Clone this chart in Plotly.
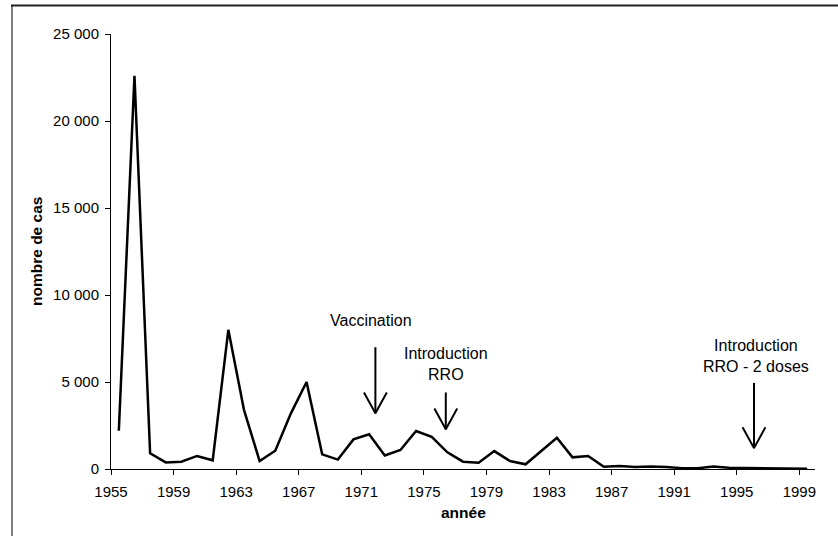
import plotly.graph_objects as go

# Measles cases per year
years = list(range(1955, 2000))
cases = [2200, 22600, 900, 380, 420, 750, 500, 8000, 3400, 460,
         1050, 3200, 5000, 840, 540, 1700, 2000, 780, 1090, 2180,
         1850, 960, 420, 360, 1030, 460, 270, 1050, 1800, 670,
         750, 130, 170, 110, 150, 110, 50, 40, 150, 70,
         50, 50, 20, 10, 10]

tick_years = [1955, 1959, 1963, 1967, 1971, 1975, 1979, 1983, 1987, 1991, 1995, 1999]
y_ticks = [0, 5000, 10000, 15000, 20000, 25000]
y_tick_labels = ["0", "5 000", "10 000", "15 000", "20 000", "25 000"]

# events: label, arrow x (year), arrow top, arrow tip, label position
event_labels = ["Vaccination", "Introduction<br>RRO", "Introduction<br>RRO - 2 doses"]
event_x = [1971.4, 1975.9, 1995.6]
event_top = [7000, 4400, 4950]
event_tip = [3200, 2280, 1200]
label_x = [1971.1, 1975.9, 1995.7]
label_y = [8520, 6030, 6500]

FONT = "Liberation Sans, Arial, sans-serif"
WING_DX = 0.73
WING_DY = 1200

W, H = 838, 536
X_DOM = [111 / W, 815 / W]
Y_DOM = [(H - 469) / H, (H - 34) / H]

fig = go.Figure()

fig.add_trace(go.Scatter(
    x=years, y=cases, mode='lines',
    line=dict(color='black', width=2.5),
    showlegend=False, hoverinfo='skip'
))

# arrows with open V heads
ax, ay = [], []
for xv, top, tip in zip(event_x, event_top, event_tip):
    ax += [xv, xv, None, xv - WING_DX, xv, xv + WING_DX, None]
    ay += [top, tip, None, tip + WING_DY, tip, tip + WING_DY, None]
fig.add_trace(go.Scatter(
    x=ax, y=ay, mode='lines',
    line=dict(color='black', width=2),
    showlegend=False, hoverinfo='skip', cliponaxis=False
))

for txt, xv, yv in zip(event_labels, label_x, label_y):
    fig.add_annotation(
        x=xv, y=yv, xref='x', yref='y', text=txt, showarrow=False,
        xanchor='center', yanchor='middle',
        font=dict(family=FONT, size=16, color='black')
    )

# axis titles
fig.add_annotation(
    text="<b>nombre de cas</b>", xref='paper', yref='paper',
    x=36 / W, y=(H - 252) / H, textangle=-90, showarrow=False,
    xanchor='center', yanchor='middle',
    font=dict(family=FONT, size=15.5, color='black')
)
fig.add_annotation(
    text="<b>année</b>", xref='paper', yref='paper',
    x=463 / W, y=(H - 512.7) / H, showarrow=False,
    xanchor='center', yanchor='middle',
    font=dict(family=FONT, size=15.5, color='black')
)

# outer frame (top and left edges visible)
fig.add_shape(type='line', xref='paper', yref='paper',
              x0=11 / W, x1=1, y0=(H - 5.5) / H, y1=(H - 5.5) / H,
              line=dict(color='#222222', width=2))
fig.add_shape(type='line', xref='paper', yref='paper',
              x0=12 / W, x1=12 / W, y0=(H - 5.5) / H, y1=0,
              line=dict(color='black', width=1))

fig.update_layout(
    width=W, height=H,
    margin=dict(l=0, r=0, t=0, b=0),
    paper_bgcolor='white', plot_bgcolor='white',
    font=dict(family=FONT, size=15, color='black'),
    showlegend=False
)

fig.update_xaxes(
    domain=X_DOM,
    range=[1954.5, 1999.5],
    tickvals=[y - 0.5 for y in tick_years],
    ticktext=[str(y) for y in tick_years],
    ticks='outside', ticklen=5, tickcolor='black', tickwidth=1,
    ticklabelstandoff=4,
    showline=True, linecolor='black', linewidth=1,
    showgrid=False, zeroline=False, automargin=False
)
fig.update_yaxes(
    domain=Y_DOM,
    range=[0, 25000],
    tickvals=y_ticks, ticktext=y_tick_labels,
    ticks='outside', ticklen=5, tickcolor='black', tickwidth=1,
    ticklabelstandoff=3,
    showline=True, linecolor='black', linewidth=1,
    showgrid=False, zeroline=False, automargin=False
)

fig.write_html("out.html", config={'displayModeBar': False},
               post_script="document.body.style.margin='0';")
